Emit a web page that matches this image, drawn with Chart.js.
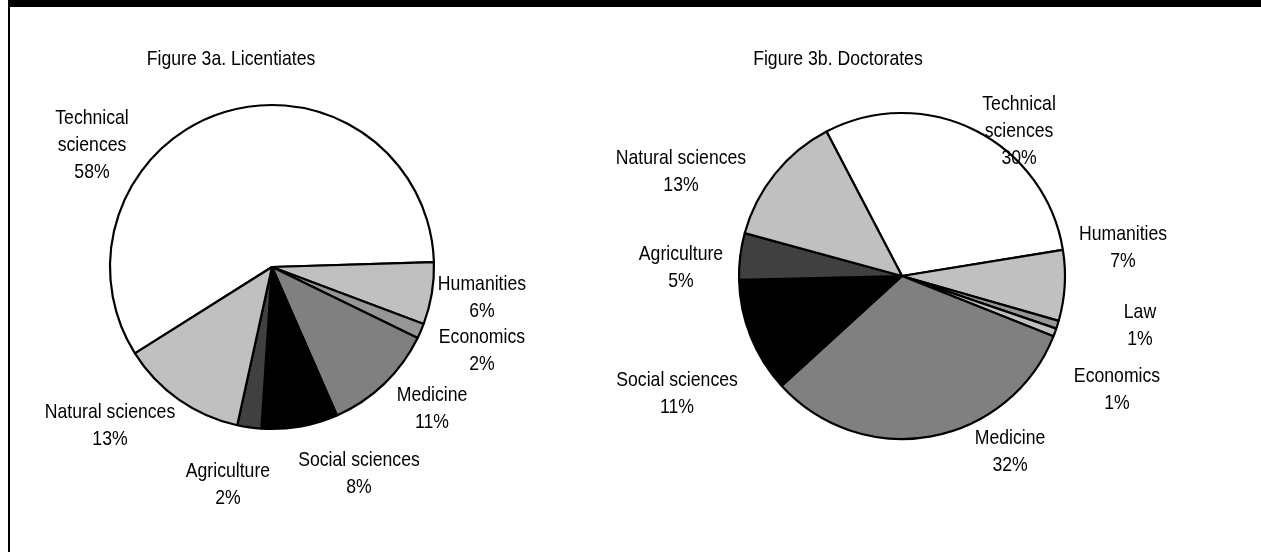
<!DOCTYPE html>
<html>
<head>
<meta charset="utf-8">
<script src="https://cdn.jsdelivr.net/npm/chart.js@4/dist/chart.umd.min.js"></script>
<style>
  html, body { margin: 0; padding: 0; background: #fff; }
  body { width: 1261px; height: 552px; position: relative; overflow: hidden; }
  #topbar { position: absolute; left: 8px; top: 0; width: 1253px; height: 7px; background: #000; }
  #leftline { position: absolute; left: 8px; top: 0; width: 2px; height: 552px; background: #000; }
  canvas { position: absolute; left: 0; top: 0; }
</style>
</head>
<body>
<div id="topbar"></div>
<div id="leftline"></div>
<canvas id="c1" width="1261" height="552"></canvas>
<canvas id="c2" width="1261" height="552"></canvas>
<script>
// ---- Data: Figure 3a (Licentiates) ----
const licTitle = 'Figure 3a. Licentiates';
const licCategories = [['Technical', 'sciences'], 'Humanities', 'Economics', 'Medicine', 'Social sciences', 'Agriculture', 'Natural sciences'];
const licValues = [58.4, 6.2, 1.5, 11.2, 7.6, 2.4, 12.6];

// ---- Data: Figure 3b (Doctorates) ----
const docTitle = 'Figure 3b. Doctorates';
const docCategories = [['Technical', 'sciences'], 'Humanities', 'Law', 'Economics', 'Medicine', 'Social sciences', 'Agriculture', 'Natural sciences'];
const docValues = [30.1, 7.0, 0.8, 0.8, 32.2, 11.4, 4.6, 13.1];

// ---- Styles / layout ----
const licColors = ['#ffffff', '#c0c0c0', '#969696', '#808080', '#000000', '#404040', '#c0c0c0'];
const docColors = ['#ffffff', '#c0c0c0', '#969696', '#c0c0c0', '#808080', '#000000', '#404040', '#c0c0c0'];
// label anchors relative to pie centre, in units of the pie radius (first line centre)
const licLabelPos = [[-1.111, -0.920], [1.296, 0.105], [1.296, 0.432], [0.988, 0.790], [0.537, 1.191], [-0.272, 1.259], [-1.0, 0.895]];
const docLabelPos = [[0.718, -1.055], [1.356, -0.258], [1.460, 0.221], [1.319, 0.613], [0.663, 0.994], [-1.380, 0.638], [-1.356, -0.135], [-1.356, -0.724]];
const licTitlePos = [-0.253, -1.284];
const docTitlePos = [-0.393, -1.331];

// Arial-Narrow look: Liberation Sans drawn with horizontal compression
const FONT = '21px "Liberation Sans", Arial, sans-serif';
const NARROW = 0.84;
const LINE_H = 27;

function narrowText(ctx, t, x, y) {
  ctx.save();
  ctx.translate(x, y);
  ctx.scale(NARROW, 1);
  ctx.fillText(t, 0, 0);
  ctx.restore();
}

const labelPlugin = {
  id: 'pieLabels',
  afterDatasetsDraw(chart, args, opts) {
    const ctx = chart.ctx;
    const meta = chart.getDatasetMeta(0);
    const arc0 = meta.data[0];
    const cx = arc0.x, cy = arc0.y, R = arc0.outerRadius;
    const ds = chart.data.datasets[0];
    const total = ds.data.reduce((a, b) => a + b, 0);
    ctx.save();
    ctx.font = FONT;
    ctx.fillStyle = '#000';
    ctx.textAlign = 'center';
    ctx.textBaseline = 'middle';
    chart.data.labels.forEach((lab, i) => {
      const p = opts.positions[i];
      const x = cx + p[0] * R;
      const y = cy + p[1] * R;
      const lines = Array.isArray(lab) ? lab.slice() : [lab];
      lines.push(Math.round(ds.data[i] / total * 100) + '%');
      lines.forEach((t, k) => narrowText(ctx, t, x, y + k * LINE_H));
    });
    narrowText(ctx, opts.title, cx + opts.titlePos[0] * R, cy + opts.titlePos[1] * R);
    ctx.restore();
  }
};

function makePie(id, labels, values, colors, rotation, radius, padding, positions, title, titlePos) {
  return new Chart(document.getElementById(id), {
    type: 'pie',
    data: {
      labels: labels,
      datasets: [{
        data: values,
        backgroundColor: colors,
        borderColor: '#000',
        borderWidth: 2.2,
        hoverBorderWidth: 2.2,
        hoverOffset: 0,
        offset: 0,
        radius: radius
      }]
    },
    options: {
      responsive: false,
      animation: false,
      rotation: rotation,
      layout: { padding: padding },
      events: [],
      plugins: {
        legend: { display: false },
        tooltip: { enabled: false },
        title: { display: false },
        pieLabels: { positions: positions, title: title, titlePos: titlePos }
      }
    },
    plugins: [labelPlugin]
  });
}

makePie('c1', licCategories, licValues, licColors, 237.8, 162,
  { left: 0, right: 717, top: 0, bottom: 18 }, licLabelPos, licTitle, licTitlePos);
makePie('c2', docCategories, docValues, docColors, -27.6, 163,
  { left: 543, right: 0, top: 0, bottom: 0 }, docLabelPos, docTitle, docTitlePos);
</script>
</body>
</html>
